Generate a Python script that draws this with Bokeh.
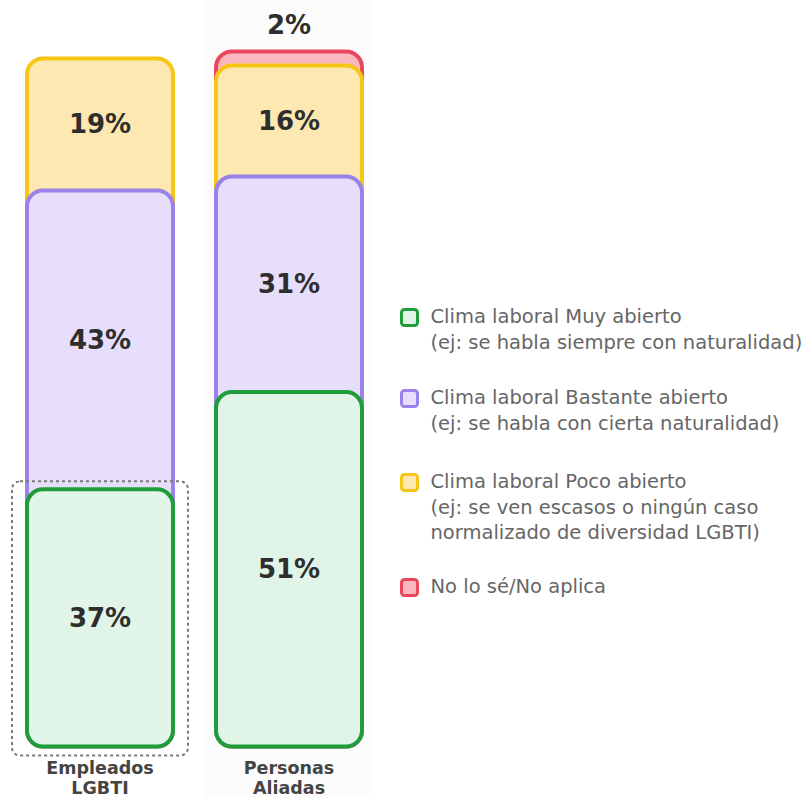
from bokeh.plotting import figure
from bokeh.models import ColumnDataSource, Range1d
from bokeh.core.properties import value
from bokeh.embed import file_html
from bokeh.resources import INLINE

# ---------------- data ----------------
groups = ["Empleados LGBTI", "Personas Aliadas"]
group_lines = [["Empleados", "LGBTI"], ["Personas", "Aliadas"]]
muy_abierto = [37, 51]
bastante_abierto = [43, 31]
poco_abierto = [19, 16]
no_lo_se = [0, 2]

series_names = ["Muy abierto", "Bastante abierto", "Poco abierto", "No lo sé"]
series_values = [muy_abierto, bastante_abierto, poco_abierto, no_lo_se]
line_colors = ["#1f9d3a", "#9a82ea", "#f6c616", "#e9485c"]
fill_colors = ["#e1f4e8", "#e6defb", "#fde8b1", "#f9b8c0"]

legend_labels = [
    ["Clima laboral Muy abierto", "(ej: se habla siempre con naturalidad)"],
    ["Clima laboral Bastante abierto", "(ej: se habla con cierta naturalidad)"],
    ["Clima laboral Poco abierto", "(ej: se ven escasos o ningún caso", "normalizado de diversidad LGBTI)"],
    ["No lo sé/No aplica"],
]

# ---------------- layout helpers (pixel -> data) ----------------
W, H = 810, 798
XPU, YPU = 189.0, 6.95
X0, Y0 = 99.5, 746.0


def X(px):
    return (px - X0) / XPU


def Y(py):
    return (Y0 - py) / YPU


p = figure(width=W, height=H, output_backend="svg", toolbar_location=None,
           x_range=Range1d(X(0), X(W)), y_range=Range1d(Y(H), Y(0)),
           min_border=0, outline_line_color=None, background_fill_color="white",
           border_fill_color="white")
p.axis.visible = False
p.grid.visible = False

xs = list(range(len(groups)))
bw = 146 / XPU

# very faint column background behind second group
p.quad(left=[xs[1] - 85 / XPU], right=[xs[1] + 85 / XPU], top=[Y(0)], bottom=[Y(H)],
       fill_color="#fcfcfc", line_color=None)

# cumulative tops
cum = []
acc = [0] * len(groups)
for vals in series_values:
    acc = [a + v for a, v in zip(acc, vals)]
    cum.append(list(acc))

# draw from top series down so lower segments overlap upper ones
for si in reversed(range(len(series_values))):
    idx = [i for i in xs if series_values[si][i] > 0]
    src = ColumnDataSource(dict(
        left=[xs[i] - bw / 2 for i in idx],
        right=[xs[i] + bw / 2 for i in idx],
        top=[cum[si][i] for i in idx],
        bottom=[0 for _ in idx],
    ))
    p.quad(left="left", right="right", top="top", bottom="bottom", source=src,
           fill_color=fill_colors[si], line_color=line_colors[si], line_width=4,
           border_radius=16)

# dashed box around first group's green segment
p.quad(left=[xs[0] - bw / 2 - 15 / XPU], right=[xs[0] + bw / 2 + 15 / XPU],
       top=[cum[0][0] + 8 / YPU], bottom=[-9 / YPU],
       fill_color=None, line_color="#7a7a7a", line_width=2, line_dash="3 3",
       border_radius=8)

# percentage labels
lx, ly, lt = [], [], []
for si, vals in enumerate(series_values):
    for i in xs:
        v = vals[i]
        if v <= 0:
            continue
        base = cum[si][i] - v
        if v < 5:
            lx.append(xs[i]); ly.append(cum[si][i] + 27 / YPU)
        else:
            lx.append(xs[i]); ly.append(base + v / 2)
        lt.append(f"{v}%")
p.text(x=lx, y=ly, text=lt, text_align="center", text_baseline="middle",
       text_font=value("DejaVu Sans"), text_font_style="bold", text_font_size="26px",
       text_color="#2e2e2e")

# category labels
cx, cy, ct = [], [], []
for i, lines in enumerate(group_lines):
    for k, t in enumerate(lines):
        cx.append(xs[i]); cy.append(Y(767 + 20 * k)); ct.append(t)
p.text(x=cx, y=cy, text=ct, text_align="center", text_baseline="middle",
       text_font=value("DejaVu Sans"), text_font_style="bold", text_font_size="17.5px",
       text_color="#444444")

# legend
row_tops = [316, 397, 481, 586]
tx, ty, tt = [], [], []
for r, lines in enumerate(legend_labels):
    yc = row_tops[r]
    p.quad(left=[X(401)], right=[X(417)], top=[Y(yc - 7)], bottom=[Y(yc + 9)],
           fill_color=fill_colors[r], line_color=line_colors[r], line_width=3,
           border_radius=3)
    for k, t in enumerate(lines):
        tx.append(X(430)); ty.append(Y(yc + 25.5 * k)); tt.append(t)
p.text(x=tx, y=ty, text=tt, text_align="left", text_baseline="middle",
       text_font=value("DejaVu Sans"), text_font_size="19.5px", text_color="#666666")

open("out.html", "w").write(file_html(p, INLINE))
